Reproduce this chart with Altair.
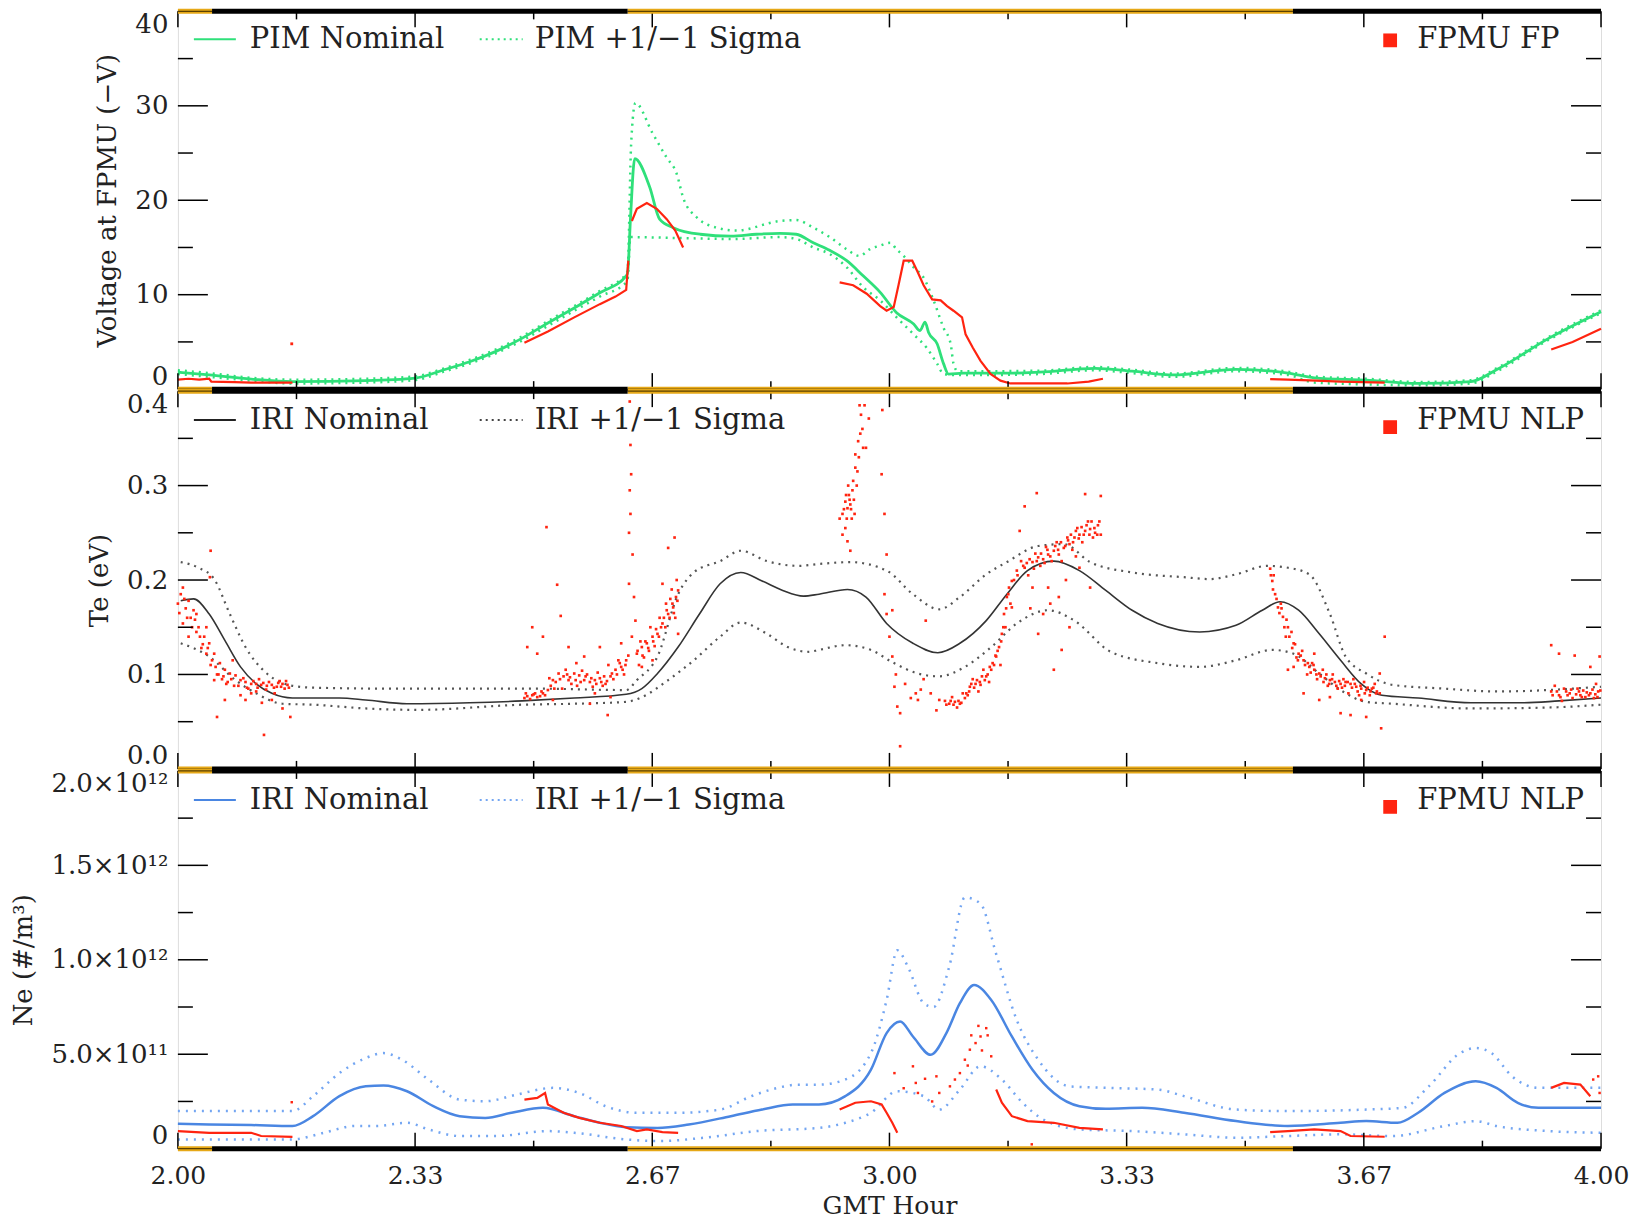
import altair as alt
import pandas as pd

FONT = "DejaVu Serif"
W, H = 1424, 378
RED = "#ff2410"
GREEN = "#2fe07a"
BLUE = "#4a86e2"
BLUE_D = "#74a6f2"
ORANGE = "#e6a817"
TXT = "#222222"

# ---------------- axis ticks / labels ----------------
X_MAJOR = [2.0, 2 + 1/3, 2 + 2/3, 3.0, 3 + 1/3, 3 + 2/3, 4.0]
X_MINOR = [2 + 1/6, 2.5, 2 + 5/6, 3 + 1/6, 3.5, 3 + 5/6]
V_MAJOR = [0, 10, 20, 30, 40]
V_MINOR = [5, 15, 25, 35]
TE_MAJOR = [0.0, 0.1, 0.2, 0.3, 0.4]
TE_MINOR = [0.05, 0.15, 0.25, 0.35]
NE_MAJOR = [0, 5, 10, 15, 20]          # units of 1e11 m^-3
NE_MINOR = [2.5, 7.5, 12.5, 17.5]

# sunlight / eclipse intervals (GMT hour)
SUN_START = [2.0, 2.632]
SUN_END = [2.048, 3.567]
ECL_START = [2.048, 3.567]
ECL_END = [2.632, 4.0]

# ---------------- panel 1 : floating potential (-V) ----------------
PIM_H = [2.000, 2.044, 2.103, 2.161, 2.264, 2.333, 2.374, 2.410, 2.447, 2.484, 2.520, 2.557, 2.593, 2.630,
         2.632, 2.636, 2.642, 2.663, 2.677, 2.696, 2.734, 2.777, 2.813, 2.846, 2.869, 2.893, 2.916, 2.940,
         2.963, 2.987, 3.010, 3.034, 3.043, 3.050, 3.055, 3.067, 3.076, 3.083, 3.104, 3.137, 3.174, 3.211,
         3.289, 3.341, 3.399, 3.487, 3.560, 3.597, 3.670, 3.743, 3.817, 3.853, 3.927, 4.000]
PIM_V = [1.8, 1.5, 1.06, 0.8, 0.9, 1.17, 2.05, 2.9, 4.0, 5.4, 7.0, 8.6, 10.2, 12.0,
         12.3, 18.0, 24.4, 21.4, 18.0, 17.1, 16.4, 16.2, 16.4, 16.5, 16.4, 15.5, 14.7, 13.6,
         12.0, 10.25, 8.1, 6.9, 6.2, 7.1, 6.0, 4.8, 2.7, 1.6, 1.7, 1.7, 1.7, 1.8,
         2.2, 1.9, 1.5, 2.1, 1.7, 1.2, 0.95, 0.6, 0.8, 2.05, 5.4, 8.2]
PIM_HI_H = [2.000, 2.044, 2.103, 2.161, 2.264, 2.333, 2.374, 2.410, 2.447, 2.484, 2.520, 2.557, 2.593, 2.630,
            2.632, 2.637, 2.643, 2.667, 2.687, 2.701, 2.710, 2.729, 2.757, 2.785, 2.846, 2.869, 2.893, 2.916,
            2.940, 2.958, 2.972, 2.987, 3.001, 3.010, 3.020, 3.034, 3.048, 3.062, 3.076, 3.086, 3.090, 3.096,
            3.137, 3.211, 3.289, 3.341, 3.399, 3.487, 3.560, 3.597, 3.670, 3.743, 3.817, 3.853, 3.927, 4.000]
PIM_HI_V = [2.0, 1.7, 1.2, 1.0, 1.1, 1.35, 2.2, 3.1, 4.2, 5.6, 7.2, 8.8, 10.4, 12.2,
            12.6, 26.0, 30.3, 27.1, 24.5, 22.8, 20.3, 18.2, 17.1, 16.8, 17.8, 17.9, 17.1, 16.1,
            14.8, 14.1, 14.8, 15.2, 15.5, 14.8, 14.1, 12.9, 11.8, 9.4, 6.5, 4.8, 2.7, 1.9,
            1.9, 1.95, 2.35, 2.05, 1.65, 2.25, 1.85, 1.35, 1.1, 0.75, 0.95, 2.2, 5.55, 8.35]
PIM_LO_H = [2.000, 2.044, 2.103, 2.161, 2.264, 2.333, 2.374, 2.410, 2.447, 2.484, 2.520, 2.557, 2.593, 2.630,
            2.632, 2.636, 2.703, 2.780, 2.846, 2.869, 2.893, 2.916, 2.940, 2.963, 2.987, 3.010, 3.034, 3.052,
            3.067, 3.076, 3.090, 3.137, 3.211, 3.289, 3.341, 3.399, 3.487, 3.560, 3.597, 3.670, 3.743, 3.817,
            3.853, 3.927, 4.000]
PIM_LO_V = [1.6, 1.3, 0.9, 0.6, 0.7, 0.95, 1.85, 2.7, 3.8, 5.15, 6.7, 8.3, 9.8, 11.3,
            11.6, 16.1, 16.0, 15.9, 16.1, 15.9, 15.0, 14.3, 12.9, 10.8, 9.4, 7.6, 5.8, 4.4,
            2.7, 1.6, 1.5, 1.5, 1.6, 2.0, 1.7, 1.3, 1.9, 1.5, 0.7, 0.5, 0.4, 0.6,
            1.85, 5.25, 8.05]
FP_H = [2.000, 2.015, 2.030, 2.044, 2.047, 2.080, 2.103, 2.130, 2.161,
        2.487, 2.520, 2.557, 2.593, 2.615, 2.630, 2.633,
        2.638, 2.645, 2.659, 2.673, 2.687, 2.699, 2.710,
        2.930, 2.949, 2.968, 2.987, 2.996, 3.006, 3.013, 3.020, 3.032, 3.039, 3.048, 3.060, 3.072, 3.081,
        3.090, 3.102, 3.107, 3.117, 3.128, 3.142, 3.156, 3.170, 3.211, 3.250, 3.280, 3.300,
        3.535, 3.560, 3.600, 3.634, 3.665, 3.696,
        3.930, 3.960, 4.000]
FP_V = [1.0, 1.1, 1.0, 1.1, 0.8, 0.75, 0.7, 0.7, 0.7,
        4.9, 6.1, 7.6, 9.0, 9.8, 10.5, 13.6,
        17.8, 19.1, 19.7, 19.1, 18.0, 16.8, 15.0,
        11.3, 11.0, 10.1, 8.8, 8.3, 8.7, 11.1, 13.6, 13.6, 12.5, 11.0, 9.5, 9.4, 8.8,
        8.3, 7.6, 5.8, 4.4, 3.0, 1.6, 0.9, 0.6, 0.6, 0.6, 0.8, 1.1,
        1.05, 1.0, 0.9, 0.8, 0.75, 0.7,
        4.2, 5.0, 6.4]
FP_SEG = [1] * 9 + [2] * 7 + [3] * 7 + [4] * 26 + [5] * 6 + [6] * 3
FP_DOT_H = [2.160]
FP_DOT_V = [4.8]

# ---------------- panel 2 : electron temperature (eV) ----------------
TE_H = [2.004, 2.022, 2.044, 2.066, 2.088, 2.110, 2.132, 2.161, 2.227, 2.264, 2.322, 2.410, 2.484, 2.557,
        2.630, 2.652, 2.674, 2.703, 2.733, 2.762, 2.791, 2.821, 2.850, 2.879, 2.901, 2.941, 2.967, 2.996,
        3.033, 3.068, 3.099, 3.136, 3.165, 3.194, 3.231, 3.267, 3.304, 3.341, 3.377, 3.436, 3.487, 3.524,
        3.549, 3.575, 3.604, 3.634, 3.663, 3.692, 3.743, 3.817, 3.890, 3.941, 4.000]
TE_V = [0.178, 0.180, 0.164, 0.136, 0.108, 0.090, 0.080, 0.075, 0.075, 0.073, 0.069, 0.070, 0.072, 0.075,
        0.079, 0.085, 0.101, 0.129, 0.164, 0.196, 0.208, 0.199, 0.189, 0.183, 0.185, 0.190, 0.182, 0.154,
        0.133, 0.123, 0.133, 0.157, 0.185, 0.210, 0.220, 0.210, 0.189, 0.168, 0.154, 0.145, 0.152, 0.168,
        0.177, 0.168, 0.143, 0.115, 0.090, 0.078, 0.075, 0.070, 0.070, 0.072, 0.075]
TE_HI_H = [2.004, 2.029, 2.051, 2.073, 2.095, 2.125, 2.161, 2.190, 2.300, 2.400, 2.500, 2.630, 2.645, 2.674,
           2.703, 2.725, 2.762, 2.791, 2.828, 2.872, 2.901, 2.945, 2.996, 3.033, 3.070, 3.099, 3.136, 3.165,
           3.209, 3.245, 3.282, 3.341, 3.414, 3.450, 3.487, 3.531, 3.560, 3.590, 3.619, 3.641, 3.670, 3.707,
           3.780, 3.853, 4.000]
TE_HI_V = [0.219, 0.213, 0.201, 0.164, 0.129, 0.101, 0.088, 0.086, 0.085, 0.085, 0.085, 0.0835, 0.094, 0.119,
           0.185, 0.208, 0.220, 0.231, 0.220, 0.215, 0.217, 0.219, 0.210, 0.185, 0.169, 0.182, 0.206, 0.219,
           0.236, 0.238, 0.219, 0.208, 0.203, 0.201, 0.206, 0.215, 0.213, 0.206, 0.164, 0.119, 0.101, 0.089,
           0.085, 0.082, 0.087]
TE_LO_H = [2.004, 2.044, 2.081, 2.110, 2.147, 2.190, 2.264, 2.337, 2.484, 2.557, 2.630, 2.652, 2.689, 2.725,
           2.762, 2.791, 2.828, 2.857, 2.887, 2.901, 2.938, 2.974, 3.004, 3.040, 3.070, 3.106, 3.143, 3.179,
           3.223, 3.260, 3.311, 3.377, 3.436, 3.487, 3.538, 3.568, 3.604, 3.634, 3.670, 3.707, 3.817, 3.927,
           4.000]
TE_LO_V = [0.133, 0.119, 0.094, 0.080, 0.069, 0.068, 0.064, 0.0625, 0.068, 0.069, 0.071, 0.076, 0.094, 0.115,
           0.140, 0.155, 0.143, 0.129, 0.124, 0.126, 0.131, 0.126, 0.113, 0.101, 0.098, 0.108, 0.129, 0.154,
           0.168, 0.157, 0.124, 0.112, 0.108, 0.115, 0.126, 0.122, 0.101, 0.0835, 0.071, 0.069, 0.064, 0.065,
           0.068]
TE_NLP_H = [
    2.004, 2.007, 2.015, 2.022, 2.029, 2.037, 2.044, 2.051, 2.059, 2.066, 2.073, 2.081, 2.088, 2.095, 2.103,
    2.110, 2.117, 2.125, 2.132, 2.139, 2.147, 2.154,
    2.046, 2.045, 2.055, 2.121, 2.147, 2.095, 2.066, 2.015, 2.007, 2.077, 2.132, 2.158, 2.103, 2.051, 2.040,
    2.026, 2.000, 2.011, 2.018, 2.026, 2.033, 2.040, 2.048, 2.055, 2.062, 2.070, 2.085, 2.099, 2.114, 2.128,
    2.143, 2.150, 2.088, 2.110, 2.136, 2.118,
    2.491, 2.498, 2.505, 2.513, 2.520, 2.527, 2.535, 2.542, 2.549, 2.557, 2.564, 2.571, 2.579, 2.586, 2.593,
    2.601, 2.608, 2.615, 2.623, 2.630,
    2.518, 2.533, 2.538, 2.498, 2.491, 2.513, 2.505, 2.549, 2.571, 2.593, 2.608, 2.604, 2.623, 2.579, 2.527,
    2.487, 2.502, 2.516, 2.524, 2.531, 2.545, 2.553, 2.561, 2.568, 2.575, 2.583, 2.590, 2.597, 2.605, 2.612,
    2.619, 2.627, 2.560, 2.540, 2.586,
    2.635, 2.636, 2.637, 2.636, 2.639, 2.641, 2.643, 2.634, 2.635, 2.634, 2.638, 2.633,
    2.645, 2.652, 2.659, 2.667, 2.674, 2.681, 2.689, 2.696, 2.700, 2.703,
    2.689, 2.698, 2.652, 2.667, 2.703, 2.681,
    2.648, 2.655, 2.662, 2.670, 2.677, 2.685, 2.692, 2.699, 2.650, 2.664, 2.686, 2.694, 2.701,
    2.934, 2.938, 2.941, 2.945, 2.949, 2.952, 2.956, 2.960, 2.963, 2.967, 2.971, 2.938, 2.941, 2.945, 2.934,
    2.952, 2.990, 2.989, 2.993, 2.958, 2.965, 2.930, 2.943, 2.947,
    2.996, 3.004, 3.011, 3.015, 3.015, 3.007, 3.040, 3.044, 3.051, 3.066, 3.070, 3.004, 2.996, 2.993, 3.037,
    3.000, 3.009, 3.022, 3.030, 3.048, 3.058,
    3.084, 3.092, 3.099, 3.106, 3.113, 3.121, 3.128, 3.136, 3.143, 3.150, 3.154, 3.158, 3.161, 3.165, 3.168,
    3.172, 3.078, 3.088, 3.095, 3.103, 3.110, 3.117, 3.125, 3.132, 3.140, 3.147, 3.156, 3.163, 3.170,
    3.179, 3.190, 3.201, 3.209, 3.216, 3.223, 3.231, 3.238, 3.245, 3.253, 3.260, 3.267, 3.275, 3.282, 3.289,
    3.297,
    3.190, 3.207, 3.223, 3.238, 3.253, 3.231, 3.242, 3.275, 3.297, 3.216, 3.201, 3.267, 3.282, 3.183, 3.172,
    3.209,
    3.175, 3.185, 3.195, 3.205, 3.212, 3.220, 3.228, 3.235, 3.242, 3.250, 3.257, 3.264, 3.271, 3.279, 3.286,
    3.293, 3.198, 3.226, 3.248, 3.262,
    3.535, 3.538, 3.542, 3.546, 3.553, 3.560, 3.568, 3.575, 3.582, 3.590, 3.597, 3.604, 3.612, 3.619, 3.626,
    3.634, 3.641, 3.648, 3.656, 3.663, 3.670, 3.678, 3.685,
    3.568, 3.582, 3.604, 3.634, 3.648, 3.670, 3.691, 3.696, 3.560, 3.597, 3.689, 3.619, 3.663,
    3.540, 3.550, 3.557, 3.565, 3.572, 3.580, 3.587, 3.594, 3.601, 3.609, 3.616, 3.623, 3.630, 3.638, 3.645,
    3.652, 3.660, 3.667, 3.675, 3.682, 3.689,
    3.930, 3.941, 3.956, 3.971, 3.985, 3.996, 3.930, 3.941, 3.963, 3.985, 3.998, 3.978, 3.935, 3.948, 3.960,
    3.967, 3.975, 3.990, 3.945, 3.993]
TE_NLP_V = [
    0.185, 0.192, 0.178, 0.168, 0.150, 0.140, 0.133, 0.122, 0.112, 0.105, 0.101, 0.099, 0.094, 0.092, 0.090,
    0.090, 0.089, 0.088, 0.089, 0.087, 0.090, 0.089,
    0.231, 0.203, 0.055, 0.036, 0.064, 0.073, 0.073, 0.140, 0.154, 0.115, 0.073, 0.055, 0.080, 0.094, 0.150,
    0.164, 0.175, 0.170, 0.160, 0.145, 0.128, 0.122, 0.115, 0.100, 0.095, 0.092, 0.088, 0.085, 0.095, 0.092,
    0.093, 0.085, 0.078, 0.082, 0.080, 0.070,
    0.077, 0.078, 0.076, 0.080, 0.0835, 0.094, 0.101, 0.098, 0.094, 0.101, 0.099, 0.094, 0.092, 0.094, 0.096,
    0.090, 0.098, 0.105, 0.108, 0.115,
    0.256, 0.195, 0.162, 0.150, 0.129, 0.140, 0.122, 0.129, 0.119, 0.129, 0.076, 0.057, 0.133, 0.069, 0.073,
    0.075, 0.080, 0.078, 0.088, 0.092, 0.105, 0.090, 0.088, 0.104, 0.100, 0.087, 0.102, 0.088, 0.110, 0.095,
    0.115, 0.100, 0.112, 0.085, 0.080,
    0.389, 0.343, 0.312, 0.270, 0.227, 0.182, 0.157, 0.196, 0.295, 0.250, 0.140, 0.120,
    0.122, 0.129, 0.133, 0.140, 0.143, 0.154, 0.164, 0.171, 0.182, 0.189,
    0.234, 0.245, 0.108, 0.115, 0.143, 0.196,
    0.110, 0.118, 0.125, 0.130, 0.160, 0.150, 0.180, 0.160, 0.135, 0.150, 0.175, 0.190, 0.200,
    0.270, 0.283, 0.276, 0.280, 0.305, 0.333, 0.347, 0.375, 0.340, 0.340, 0.371, 0.255, 0.241, 0.231, 0.248,
    0.319, 0.380, 0.312, 0.270, 0.385, 0.385, 0.265, 0.290, 0.265,
    0.164, 0.119, 0.066, 0.059, 0.024, 0.087, 0.073, 0.084, 0.157, 0.062, 0.073, 0.168, 0.227, 0.185, 0.080,
    0.140, 0.100, 0.090, 0.075, 0.095, 0.080,
    0.069, 0.071, 0.069, 0.075, 0.087, 0.090, 0.089, 0.098, 0.105, 0.119, 0.129, 0.143, 0.164, 0.182, 0.192,
    0.199, 0.072, 0.076, 0.065, 0.080, 0.078, 0.095, 0.082, 0.105, 0.092, 0.110, 0.110, 0.150, 0.175,
    0.210, 0.213, 0.219, 0.224, 0.222, 0.227, 0.231, 0.227, 0.234, 0.238, 0.245, 0.248, 0.252, 0.254, 0.250,
    0.248,
    0.278, 0.292, 0.192, 0.182, 0.150, 0.105, 0.126, 0.291, 0.289, 0.164, 0.192, 0.213, 0.192, 0.252, 0.171,
    0.143,
    0.200, 0.220, 0.205, 0.228, 0.215, 0.235, 0.220, 0.240, 0.220, 0.245, 0.232, 0.255, 0.240, 0.262, 0.245,
    0.258, 0.170, 0.175, 0.200, 0.225,
    0.212, 0.199, 0.185, 0.171, 0.161, 0.150, 0.133, 0.122, 0.115, 0.108, 0.105, 0.101, 0.096, 0.094, 0.092,
    0.090, 0.092, 0.090, 0.087, 0.085, 0.0835, 0.085, 0.082,
    0.108, 0.080, 0.073, 0.059, 0.057, 0.055, 0.043, 0.140, 0.105, 0.122, 0.101, 0.076, 0.073,
    0.205, 0.175, 0.140, 0.145, 0.118, 0.125, 0.100, 0.112, 0.095, 0.105, 0.088, 0.100, 0.085, 0.095, 0.080,
    0.095, 0.078, 0.092, 0.078, 0.090, 0.080,
    0.082, 0.078, 0.080, 0.078, 0.080, 0.082, 0.131, 0.122, 0.120, 0.108, 0.119, 0.076, 0.088, 0.085, 0.075,
    0.085, 0.083, 0.075, 0.072, 0.090]
# denser cores of the FPMU NLP Te clusters
TE_CORE_H = [
    2.002, 2.009, 2.013, 2.020, 2.024, 2.031, 2.035, 2.042, 2.046, 2.053, 2.057, 2.064, 2.068, 2.075, 2.079,
    2.092, 2.097, 2.106, 2.112, 2.120, 2.124, 2.135, 2.141, 2.145, 2.152, 2.156,
    2.489, 2.495, 2.500, 2.509, 2.511, 2.522, 2.529, 2.537, 2.547, 2.551, 2.559, 2.566, 2.573, 2.581, 2.588,
    2.595, 2.599, 2.603, 2.610, 2.617, 2.621, 2.625, 2.629,
    2.646, 2.653, 2.657, 2.661, 2.668, 2.672, 2.676, 2.679, 2.683, 2.687, 2.691, 2.695, 2.697, 2.702,
    2.936, 2.940, 2.944, 2.948, 2.950, 2.954, 2.939, 2.942, 2.946, 2.951, 2.955, 2.957, 2.959, 2.962,
    3.080, 3.086, 3.090, 3.097, 3.101, 3.108, 3.112, 3.115, 3.119, 3.123, 3.127, 3.130, 3.134, 3.138, 3.141,
    3.145, 3.149, 3.152, 3.157, 3.160, 3.164, 3.167,
    3.180, 3.188, 3.193, 3.197, 3.203, 3.207, 3.213, 3.218, 3.222, 3.226, 3.233, 3.237, 3.241, 3.247, 3.251,
    3.255, 3.258, 3.262, 3.266, 3.270, 3.273, 3.277, 3.281, 3.284, 3.288, 3.292, 3.295,
    3.536, 3.539, 3.544, 3.548, 3.551, 3.555, 3.558, 3.562, 3.566, 3.570, 3.574, 3.578, 3.584, 3.588, 3.592,
    3.596, 3.600, 3.606, 3.610, 3.614, 3.618, 3.622, 3.628, 3.632, 3.636, 3.640, 3.644, 3.650, 3.654, 3.658,
    3.662, 3.668, 3.672, 3.676, 3.680, 3.684,
    3.932, 3.938, 3.943, 3.951, 3.953, 3.958, 3.965, 3.969, 3.973, 3.980, 3.983, 3.988, 3.992, 3.995, 3.999]
TE_CORE_V = [
    0.165, 0.180, 0.160, 0.150, 0.158, 0.140, 0.132, 0.128, 0.110, 0.108, 0.100, 0.098, 0.090, 0.095, 0.088,
    0.096, 0.086, 0.093, 0.086, 0.091, 0.084, 0.086, 0.091, 0.087, 0.093, 0.086,
    0.080, 0.074, 0.079, 0.077, 0.082, 0.096, 0.085, 0.095, 0.100, 0.097, 0.094, 0.092, 0.098, 0.096, 0.090,
    0.092, 0.098, 0.093, 0.101, 0.100, 0.112, 0.105, 0.110,
    0.125, 0.120, 0.135, 0.128, 0.135, 0.148, 0.140, 0.150, 0.160, 0.168, 0.160, 0.175, 0.165, 0.178,
    0.275, 0.265, 0.285, 0.295, 0.285, 0.300, 0.290, 0.300, 0.275, 0.270, 0.315, 0.330, 0.355, 0.360,
    0.068, 0.072, 0.068, 0.072, 0.070, 0.080, 0.082, 0.090, 0.086, 0.094, 0.092, 0.098, 0.094, 0.100, 0.108,
    0.112, 0.120, 0.125, 0.135, 0.150, 0.170, 0.185,
    0.205, 0.215, 0.218, 0.222, 0.212, 0.220, 0.228, 0.218, 0.232, 0.225, 0.236, 0.232, 0.240, 0.236, 0.242,
    0.248, 0.240, 0.252, 0.244, 0.256, 0.248, 0.258, 0.248, 0.262, 0.255, 0.248, 0.262,
    0.205, 0.190, 0.180, 0.165, 0.170, 0.150, 0.158, 0.140, 0.128, 0.132, 0.115, 0.120, 0.110, 0.112, 0.102,
    0.110, 0.100, 0.098, 0.092, 0.100, 0.090, 0.095, 0.088, 0.093, 0.086, 0.088, 0.092, 0.086, 0.090, 0.082,
    0.088, 0.080, 0.086, 0.082, 0.086, 0.080,
    0.078, 0.082, 0.076, 0.082, 0.078, 0.084, 0.079, 0.082, 0.076, 0.081, 0.078, 0.084, 0.079, 0.076, 0.083]

# ---------------- panel 3 : electron density (1e11 m^-3) ----------------
NE_H = [2.000, 2.044, 2.103, 2.161, 2.190, 2.227, 2.264, 2.289, 2.322, 2.359, 2.396, 2.432, 2.469, 2.513,
        2.557, 2.593, 2.630, 2.674, 2.718, 2.777, 2.821, 2.864, 2.901, 2.938, 2.974, 2.996, 3.015, 3.033,
        3.058, 3.080, 3.099, 3.119, 3.143, 3.172, 3.201, 3.231, 3.267, 3.304, 3.355, 3.414, 3.487, 3.560,
        3.634, 3.670, 3.714, 3.743, 3.780, 3.824, 3.853, 3.883, 3.912, 4.000]
NE_V = [1.32, 1.28, 1.25, 1.2, 1.72, 2.78, 3.3, 3.34, 3.04, 2.25, 1.72, 1.63, 1.9, 2.16,
        1.72, 1.37, 1.14, 1.1, 1.28, 1.72, 2.07, 2.34, 2.34, 2.78, 4.18, 6.12, 6.73, 5.94,
        4.97, 6.12, 7.7, 8.66, 7.87, 5.94, 4.18, 2.95, 2.25, 2.11, 2.16, 1.9, 1.46, 1.2,
        1.37, 1.46, 1.37, 1.9, 2.95, 3.57, 3.22, 2.43, 2.16, 2.16]
NE_HI_H = [2.000, 2.161, 2.190, 2.227, 2.264, 2.289, 2.315, 2.352, 2.396, 2.432, 2.476, 2.527, 2.564, 2.601,
           2.645, 2.703, 2.762, 2.806, 2.843, 2.872, 2.901, 2.938, 2.974, 2.996, 3.011, 3.026, 3.048, 3.062,
           3.084, 3.106, 3.128, 3.150, 3.179, 3.209, 3.253, 3.304, 3.377, 3.414, 3.487, 3.560, 3.670, 3.721,
           3.758, 3.802, 3.824, 3.846, 3.875, 3.912, 4.000]
NE_HI_V = [1.99, 1.99, 2.78, 4.0, 4.8, 5.06, 4.71, 3.66, 2.6, 2.51, 2.86, 3.22, 2.95, 2.25,
           1.9, 1.9, 2.07, 2.78, 3.22, 3.39, 3.39, 3.66, 5.06, 7.87, 10.5, 9.63, 7.7, 7.5,
           9.63, 13.3, 12.97, 10.3, 6.8, 4.71, 3.3, 3.22, 3.13, 2.78, 2.07, 1.99, 2.07, 2.16,
           3.3, 5.06, 5.33, 5.06, 3.83, 3.22, 3.22]
NE_LO_H = [2.000, 2.161, 2.205, 2.249, 2.278, 2.322, 2.352, 2.396, 2.447, 2.520, 2.557, 2.630, 2.674, 2.740,
           2.813, 2.901, 2.938, 2.974, 3.011, 3.048, 3.070, 3.099, 3.128, 3.158, 3.187, 3.216, 3.267, 3.341,
           3.414, 3.487, 3.560, 3.634, 3.707, 3.780, 3.824, 3.853, 3.927, 4.000]
NE_LO_V = [0.49, 0.49, 0.84, 1.2, 1.2, 1.37, 1.02, 0.67, 0.67, 0.93, 0.84, 0.49, 0.4, 0.58,
           0.93, 1.1, 1.37, 1.9, 3.04, 2.78, 2.07, 3.13, 4.36, 3.66, 2.43, 1.55, 1.02, 0.93,
           0.76, 0.58, 0.67, 0.76, 0.67, 1.2, 1.46, 1.2, 0.93, 0.84]
NLP_NE_H = [2.000, 2.044, 2.103, 2.117, 2.161,
            2.487, 2.505, 2.516, 2.520, 2.542, 2.564, 2.593, 2.623, 2.645, 2.659, 2.681, 2.703,
            2.930, 2.952, 2.974, 2.989, 2.996, 3.004, 3.011,
            3.150, 3.158, 3.172, 3.194, 3.231, 3.267, 3.300,
            3.535, 3.560, 3.597, 3.634, 3.648, 3.696,
            3.930, 3.948, 3.971, 3.985]
NLP_NE_V = [0.93, 0.84, 0.84, 0.67, 0.62,
            2.6, 2.69, 2.95, 2.34, 1.9, 1.63, 1.37, 1.2, 0.93, 1.02, 0.88, 0.84,
            2.07, 2.43, 2.51, 2.34, 1.9, 1.37, 0.84,
            3.13, 2.43, 1.72, 1.46, 1.37, 1.1, 1.02,
            0.88, 0.93, 1.02, 0.93, 0.67, 0.63,
            3.22, 3.48, 3.39, 2.78]
NLP_NE_SEG = [1] * 5 + [2] * 12 + [3] * 7 + [4] * 7 + [5] * 6 + [6] * 4
NLP_NE_DOT_H = [2.160, 3.007, 3.033, 3.037, 3.040, 3.070, 3.066, 3.092, 3.099, 3.106, 3.113, 3.121, 3.128,
                3.136, 3.143, 3.200, 3.989, 3.996, 3.998, 3.115, 3.125, 3.130, 3.110, 3.138, 3.020, 3.050,
                3.060, 3.085]
NLP_NE_DOT_V = [2.46, 4.0, 4.36, 3.48, 2.95, 2.95, 3.83, 3.66, 4.0, 4.71, 5.24, 5.59, 5.94,
                6.38, 4.89, 0.23, 3.66, 3.83, 2.95, 6.0, 6.5, 5.2, 4.4, 6.0, 3.2, 3.7,
                2.5, 3.3]

ONE = pd.DataFrame({"a": [0]})


def df(h, v, **extra):
    d = pd.DataFrame({"h": h, "v": v})
    for k, val in extra.items():
        d[k] = val
    return d


def build_panel(domain, y_major, y_minor, y_axis, x_axis, curves, red_layers, legend):
    xs = alt.Scale(domain=[2, 4], nice=False, zero=False)
    ys = alt.Scale(domain=domain, nice=False, zero=False)
    X = lambda: alt.X("h:Q", scale=xs, axis=x_axis)
    Y = lambda: alt.Y("v:Q", scale=ys, axis=y_axis)
    layers = []
    for (hh, vv, color, dash, width) in curves:
        m = alt.Chart(df(hh, vv)).mark_line(color=color, strokeWidth=width,
                                            interpolate="monotone",
                                            **({"strokeDash": dash} if dash else {}))
        layers.append(m.encode(x=X(), y=Y()))
    for kind, data in red_layers:
        if kind == "line":
            layers.append(alt.Chart(data).mark_line(color=RED, strokeWidth=2.2)
                          .encode(x=X(), y=Y(), detail="seg:N"))
        else:
            layers.append(alt.Chart(data).mark_square(color=RED, size=kind, opacity=1)
                          .encode(x=X(), y=Y()))
    # inward ticks
    xmaj = pd.DataFrame({"h": X_MAJOR})
    xmin = pd.DataFrame({"h": X_MINOR})
    for d, ln in ((xmaj, 16), (xmin, 8)):
        layers.append(alt.Chart(d).mark_rule(color="black", strokeWidth=1.5)
                      .encode(x=X(), y=alt.value(0), y2=alt.value(ln)))
        layers.append(alt.Chart(d).mark_rule(color="black", strokeWidth=1.5)
                      .encode(x=X(), y=alt.value(H), y2=alt.value(H - ln)))
    ymaj = pd.DataFrame({"v": y_major})
    ymin = pd.DataFrame({"v": y_minor})
    for d, ln in ((ymaj, 30), (ymin, 15)):
        layers.append(alt.Chart(d).mark_rule(color="black", strokeWidth=1.5)
                      .encode(y=Y(), x=alt.value(0), x2=alt.value(ln)))
        layers.append(alt.Chart(d).mark_rule(color="black", strokeWidth=1.5)
                      .encode(y=Y(), x=alt.value(W - ln), x2=alt.value(W)))
    # sunlight / eclipse bars on top and bottom edges
    sun = pd.DataFrame({"h": SUN_START, "h2": SUN_END})
    ecl = pd.DataFrame({"h": ECL_START, "h2": ECL_END})
    for yy in (0, H):
        layers.append(alt.Chart(sun).mark_rule(color=ORANGE, strokeWidth=5)
                      .encode(x=X(), x2="h2:Q", y=alt.value(yy)))
        layers.append(alt.Chart(sun).mark_rule(color="#5a4000", strokeWidth=1.2)
                      .encode(x=X(), x2="h2:Q", y=alt.value(yy)))
        layers.append(alt.Chart(ecl).mark_rule(color="black", strokeWidth=5)
                      .encode(x=X(), x2="h2:Q", y=alt.value(yy)))
    # legend
    (nom_col, sig_col, nom_txt, sig_txt, red_txt, ty, sq_y) = legend
    layers.append(alt.Chart(ONE).mark_rule(color=nom_col, strokeWidth=2)
                  .encode(x=alt.value(16), x2=alt.value(58), y=alt.value(ty)))
    layers.append(alt.Chart(ONE).mark_rule(color=sig_col, strokeWidth=2, strokeDash=[2, 4])
                  .encode(x=alt.value(302), x2=alt.value(345), y=alt.value(ty)))
    for tx, txt in ((72, nom_txt), (357, sig_txt), (1240, red_txt)):
        layers.append(alt.Chart(ONE).mark_text(align="left", baseline="middle", font=FONT,
                                               fontSize=29, color=TXT)
                      .encode(x=alt.value(tx), y=alt.value(ty), text=alt.value(txt)))
    layers.append(alt.Chart(ONE).mark_square(color=RED, size=190, opacity=1)
                  .encode(x=alt.value(1213), y=alt.value(sq_y)))
    return alt.layer(*layers).properties(width=W, height=H)


def yaxis(values, title, fmt=None, expr=None):
    kw = dict(values=values, title=title, labelFlush=True, domain=False, ticks=False, grid=False,
              labelPadding=10, titlePadding=14, labelFont=FONT, labelFontSize=26, labelColor=TXT,
              titleFont=FONT, titleFontSize=26, titleFontWeight="normal", titleColor=TXT)
    if fmt:
        kw["format"] = fmt
    if expr:
        kw["labelExpr"] = expr
    return alt.Axis(**kw)


bottom_x_axis = alt.Axis(values=X_MAJOR, format=".2f", title="GMT Hour", domain=False, ticks=False,
                         grid=False, labelPadding=15, titlePadding=5, labelFont=FONT, labelFontSize=25,
                         labelColor=TXT, titleFont=FONT, titleFontSize=25, titleFontWeight="normal",
                         titleColor=TXT, labelFlush=False)

fp_line = df(FP_H, FP_V, seg=FP_SEG)
fp_dot = df(FP_DOT_H, FP_DOT_V)
top = build_panel(
    [0, 40], V_MAJOR, V_MINOR, yaxis(V_MAJOR, "Voltage at FPMU (−V)"), None,
    [(PIM_HI_H, PIM_HI_V, GREEN, [2, 5], 2.5),
     (PIM_LO_H, PIM_LO_V, GREEN, [2, 5], 2.5),
     (PIM_H, PIM_V, GREEN, None, 2.8)],
    [("line", fp_line), (8, fp_dot)],
    (GREEN, GREEN, "PIM Nominal", "PIM +1/−1 Sigma", "FPMU FP", 28, 29))

te_dots = pd.concat([df(TE_NLP_H, TE_NLP_V), df(TE_CORE_H, TE_CORE_V)], ignore_index=True)
mid = build_panel(
    [0, 0.4], TE_MAJOR, TE_MINOR, yaxis(TE_MAJOR, "Te (eV)", fmt=".1f"), None,
    [(TE_HI_H, TE_HI_V, "#555555", [2, 5], 2.2),
     (TE_LO_H, TE_LO_V, "#555555", [2, 5], 2.2),
     (TE_H, TE_V, "#333333", None, 1.6)],
    [(7, te_dots)],
    ("#222222", "#444444", "IRI Nominal", "IRI +1/−1 Sigma", "FPMU NLP", 29, 36))

ne_expr = ("datum.value == 0 ? '0' : datum.value == 5 ? '5.0×10¹¹' : datum.value == 10 ? '1.0×10¹²'"
           " : datum.value == 15 ? '1.5×10¹²' : '2.0×10¹²'")
ne_line = df(NLP_NE_H, NLP_NE_V, seg=NLP_NE_SEG)
ne_dot = df(NLP_NE_DOT_H, NLP_NE_DOT_V)
bot = build_panel(
    [0, 20], NE_MAJOR, NE_MINOR, yaxis(NE_MAJOR, "Ne (#/m³)", expr=ne_expr), bottom_x_axis,
    [(NE_HI_H, NE_HI_V, BLUE_D, [2, 6], 2.5),
     (NE_LO_H, NE_LO_V, BLUE_D, [2, 6], 2.5),
     (NE_H, NE_V, BLUE, None, 2.5)],
    [("line", ne_line), (6, ne_dot)],
    (BLUE, BLUE_D, "IRI Nominal", "IRI +1/−1 Sigma", "FPMU NLP", 29, 36))

chart = (alt.vconcat(top, mid, bot, spacing=2, bounds="flush")
         .properties(padding={"left": 2, "top": 0, "right": 0, "bottom": 0})
         .configure_view(stroke="black", strokeWidth=1.5)
         .configure(background="white"))

chart.save("out.html", embed_options={"renderer": "svg", "actions": False})
